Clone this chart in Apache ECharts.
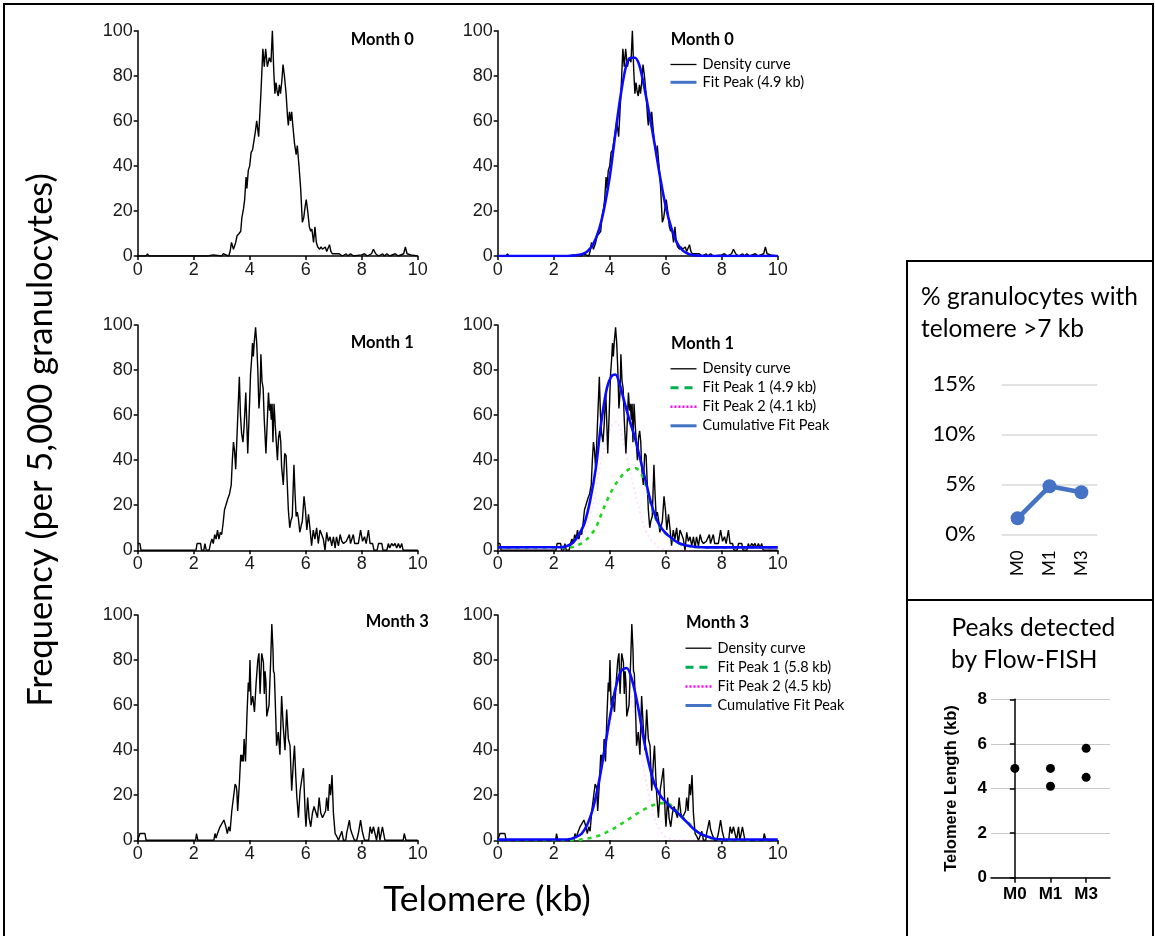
<!DOCTYPE html>
<html><head><meta charset="utf-8">
<script src="https://cdn.jsdelivr.net/npm/echarts@6/dist/echarts.min.js"></script>
<style>html,body{margin:0;padding:0;background:#fff}#c{width:1155px;height:936px}</style>
</head><body><div id="c"></div>
<script>
// ---------- DATA ----------
// density curves: [telomere kb, frequency]
const density0 = [[0,0],[0.3,0],[0.35,1],[0.4,0],[2.5,0],[2.55,0.5],[2.7,0.5],[2.75,0],[3.0,0],[3.05,1],[3.15,0.5],[3.25,0],[3.3,2],[3.35,6],[3.42,3],[3.5,6],[3.55,9],[3.62,10],[3.68,11],[3.72,17],[3.78,21],[3.82,25],[3.87,35],[3.9,30],[3.95,38],[4.0,40],[4.05,46],[4.1,47],[4.2,55],[4.25,60],[4.32,53],[4.4,72],[4.47,92],[4.52,84],[4.57,92],[4.63,84],[4.7,88],[4.76,86],[4.81,100],[4.86,82],[4.9,72],[4.94,77],[4.98,73],[5.02,71],[5.06,76],[5.1,72],[5.15,78],[5.19,85],[5.24,80],[5.3,72],[5.35,62],[5.38,58],[5.42,64],[5.46,60],[5.5,64],[5.54,58],[5.6,50],[5.66,45],[5.7,49],[5.76,40],[5.82,30],[5.88,15],[5.93,17],[5.98,22],[6.02,25],[6.08,19],[6.13,13],[6.18,11],[6.22,12],[6.28,6],[6.33,13],[6.38,6],[6.43,4],[6.5,3],[6.55,4],[6.6,3],[6.65,3],[6.7,4],[6.75,2],[6.85,5],[6.9,2],[6.95,1],[7.0,0.5],[7.2,1],[7.3,0],[7.45,1],[7.5,0],[7.6,1],[7.7,0],[8.0,0.5],[8.1,1],[8.2,0],[8.35,1],[8.42,3],[8.5,1],[8.6,0],[8.75,1],[8.8,0],[8.9,1],[9.0,0],[9.2,1],[9.3,0],[9.5,1],[9.56,4],[9.62,1],[9.75,0.5],[9.8,0],[10,0]];
const density1 = [[0,3],[0.08,3],[0.12,0],[2.08,0],[2.12,3],[2.25,3],[2.28,0],[2.36,0],[2.4,3],[2.45,0],[2.55,0],[2.6,3],[2.65,5],[2.7,3],[2.75,7],[2.8,5],[2.85,9],[2.9,5],[2.95,8],[3.0,7],[3.05,12],[3.1,18],[3.15,20],[3.22,23],[3.28,25],[3.34,29],[3.38,40],[3.42,48],[3.46,44],[3.5,36],[3.56,55],[3.63,77],[3.67,60],[3.71,52],[3.76,48],[3.8,55],[3.86,70],[3.9,55],[3.93,43],[3.98,60],[4.03,78],[4.07,85],[4.1,92],[4.13,86],[4.16,92],[4.21,99],[4.25,92],[4.29,80],[4.33,63],[4.37,70],[4.4,87],[4.44,75],[4.48,72],[4.52,58],[4.58,43],[4.63,58],[4.67,70],[4.71,62],[4.74,65],[4.77,58],[4.8,65],[4.83,48],[4.87,65],[4.91,56],[4.95,48],[4.99,40],[5.03,50],[5.07,53],[5.11,48],[5.14,37],[5.2,29],[5.25,43],[5.3,42],[5.34,30],[5.38,18],[5.43,10],[5.47,13],[5.52,15],[5.58,38],[5.62,25],[5.66,15],[5.7,17],[5.74,14],[5.79,8],[5.84,11],[5.88,13],[5.94,24],[5.99,18],[6.04,9],[6.1,16],[6.15,10],[6.21,2],[6.27,9],[6.33,5],[6.39,10],[6.45,3],[6.51,9],[6.57,9],[6.63,5],[6.69,0],[6.75,8],[6.81,4],[6.87,6],[6.93,2],[6.99,6],[7.05,1],[7.1,6],[7.17,2],[7.23,7],[7.29,4],[7.35,3],[7.45,4],[7.56,7],[7.6,3],[7.65,3],[7.7,7],[7.75,3],[7.88,3],[7.96,9],[8.03,4],[8.1,6],[8.16,3],[8.24,9],[8.3,3],[8.39,3],[8.44,0],[8.55,0],[8.6,3],[8.72,3],[8.76,0],[8.9,0],[8.95,3],[9.0,1],[9.07,3],[9.13,2],[9.19,3],[9.25,1],[9.31,3],[9.37,1],[9.43,3],[9.48,0],[10,0]];
const density3 = [[0,0],[0.06,0],[0.08,3],[0.26,3],[0.3,0],[2.07,0],[2.1,3],[2.15,0],[2.72,0],[2.76,3],[2.8,1],[2.85,3],[2.9,3],[2.94,6],[3.0,6],[3.08,9],[3.15,6],[3.2,3],[3.25,6],[3.3,4],[3.36,13],[3.42,19],[3.48,25],[3.52,24],[3.54,22],[3.57,13],[3.63,25],[3.68,38],[3.72,35],[3.74,38],[3.77,35],[3.8,45],[3.85,35],[3.9,55],[3.95,70],[3.98,66],[4.01,80],[4.05,60],[4.11,64],[4.17,57],[4.23,70],[4.29,80],[4.33,83],[4.37,65],[4.43,83],[4.49,79],[4.52,65],[4.55,75],[4.58,70],[4.61,55],[4.66,55],[4.69,60],[4.75,80],[4.79,96],[4.83,85],[4.85,75],[4.88,74],[4.93,55],[4.96,42],[5.02,48],[5.08,38],[5.14,64],[5.2,50],[5.26,40],[5.32,58],[5.38,45],[5.44,42],[5.5,22],[5.56,35],[5.6,42],[5.64,30],[5.68,20],[5.74,10],[5.8,22],[5.86,22],[5.92,32],[5.98,12],[6.01,6],[6.07,19],[6.12,10],[6.18,6],[6.24,12],[6.3,15],[6.36,15],[6.42,10],[6.48,19],[6.54,12],[6.6,10],[6.65,10],[6.71,13],[6.75,19],[6.8,13],[6.85,25],[6.89,20],[6.94,29],[6.99,12],[7.05,3],[7.1,2],[7.17,0],[7.23,0],[7.29,4],[7.35,0],[7.43,0],[7.46,3],[7.56,9],[7.6,5],[7.65,3],[7.7,3],[7.74,0],[7.82,0],[7.88,3],[7.96,9],[8.02,4],[8.1,0],[8.25,0],[8.3,6],[8.36,3],[8.42,6],[8.48,6],[8.53,0],[8.56,0],[8.6,6],[8.65,0],[8.7,0],[8.74,6],[8.8,6],[8.83,0],[9.48,0],[9.52,3],[9.58,0],[10,0]];

// fitted peaks
const fit0 = [[0,0],[2.5,0],[2.8,0.3],[3.0,0.8],[3.2,2],[3.4,5],[3.6,11],[3.8,21],[4.0,35],[4.2,54],[4.4,72],[4.6,85],[4.75,88],[4.9,88],[5.05,85],[5.2,77],[5.4,64],[5.6,50],[5.8,35],[6.0,22],[6.2,12.5],[6.4,6],[6.6,2.5],[6.8,1],[7.0,0.3],[7.5,0],[10,0]];
const m1Peak1 = [[0,1.3],[2.5,1.3],[2.7,1.6],[2.9,2.5],[3.1,4],[3.3,6.5],[3.5,10],[3.7,16],[3.9,22],[4.1,27],[4.3,31],[4.5,34],[4.7,36],[4.9,36.5],[5.1,34.5],[5.3,28.5],[5.5,19],[5.7,12.5],[5.9,8.7],[6.1,6.3],[6.3,4.4],[6.5,2.9],[6.8,1.9],[7.0,1.5],[7.5,1.3],[10,1.3]];
const m1Peak2 = [[0,0],[2.4,0],[2.7,1.5],[2.9,3.5],[3.1,8],[3.3,15.5],[3.5,26],[3.7,40],[3.9,50],[4.1,56],[4.25,57],[4.4,53],[4.6,42],[4.8,31],[5.0,21],[5.2,12],[5.4,6],[5.6,3],[5.8,1],[6.0,0.3],[6.3,0],[10,0]];
const m1Cumul = [[0,1.3],[2.3,1.4],[2.5,2],[2.7,3.5],[2.9,7],[3.1,12],[3.3,22],[3.5,36],[3.7,57],[3.9,72],[4.05,77],[4.2,78],[4.35,74],[4.5,67],[4.7,58],[4.9,50],[5.1,40],[5.3,30],[5.5,20],[5.7,13],[5.9,9],[6.1,6.5],[6.3,4.5],[6.5,3],[6.8,2],[7.0,1.6],[7.5,1.3],[10,1.3]];
const m3Peak1 = [[0,0],[2.8,0],[3.0,0.4],[3.3,1],[3.6,2],[3.8,3],[4.0,4.3],[4.25,6],[4.5,8],[4.75,10],[5.0,12],[5.2,13.5],[5.45,15],[5.7,16.2],[5.9,16.5],[6.1,16.3],[6.3,14.2],[6.5,11.8],[6.7,9],[6.9,6.7],[7.1,4],[7.3,2.6],[7.5,1.5],[7.7,0.8],[8.0,0.3],[8.5,0],[10,0]];
const m3Peak2 = [[0,0],[2.5,0],[2.8,1],[3.0,2.5],[3.2,6],[3.4,13],[3.6,23],[3.8,36],[4.0,50],[4.2,62],[4.4,68],[4.6,68],[4.8,61],[5.0,48],[5.2,33],[5.4,20],[5.6,10],[5.8,4.5],[6.0,1.5],[6.2,0.5],[6.5,0],[10,0]];
const m3Cumul = [[0,0.3],[2.5,0.4],[2.8,1.5],[3.0,3],[3.2,7],[3.4,14],[3.6,25],[3.8,39],[4.0,54],[4.2,67],[4.4,75],[4.6,76.5],[4.8,71],[5.0,60],[5.2,46],[5.4,34],[5.6,25],[5.8,20],[6.0,17],[6.2,14.5],[6.4,12.5],[6.6,10],[6.8,7.5],[7.0,5],[7.2,3.2],[7.4,2],[7.6,1.2],[7.8,0.6],[8.0,0.4],[10,0.3]];

// right-hand panels
const pctCats = ['M0','M1','M3'];
const pctValues = [1.6, 4.8, 4.2];
const peakCats = ['M0','M1','M3'];
const peakValues = [[4.9],[4.9,4.1],[5.8,4.5]];

const monthLabels = ['Month 0','Month 1','Month 3'];
const legendNames = {
  m0: ['Density curve','Fit Peak (4.9 kb)'],
  m1: ['Density curve','Fit Peak 1 (4.9 kb)','Fit Peak 2 (4.1 kb)','Cumulative Fit Peak'],
  m3: ['Density curve','Fit Peak 1 (5.8 kb)','Fit Peak 2 (4.5 kb)','Cumulative Fit Peak']
};

// ---------- LAYOUT ----------
const ARIAL = 'Liberation Sans, Arial, sans-serif';
const CAL = 'Lato, Carlito, Calibri, sans-serif';
const PW = 280, PH = 225.3;
const panelPos = [
  [137.7, 30.7], [497.7, 30.7],
  [137.7, 325], [497.7, 325],
  [137.7, 615], [497.7, 615]
];

const grids = panelPos.map(p => ({left:p[0], top:p[1], width:PW, height:PH}));
grids.push({left:1001.7, top:384.3, width:95.6, height:150});   // % panel
grids.push({left:991, top:699.3, width:119, height:178.4});     // peaks panel

const axisLineSt = {show:true, lineStyle:{color:'#000', width:1.5}};
const tickSt = {show:true, inside:false, length:4, lineStyle:{color:'#000', width:1.5}};
const lblSt = {fontFamily:ARIAL, fontSize:18, color:'#1a1a1a'};

const xAxes = [], yAxes = [];
for (let i = 0; i < 6; i++) {
  xAxes.push({gridIndex:i, type:'value', min:0, max:10, interval:2,
    axisLine:axisLineSt, axisTick:tickSt, splitLine:{show:false},
    axisLabel:Object.assign({margin:5}, lblSt)});
  yAxes.push({gridIndex:i, type:'value', min:0, max:100, interval:20,
    axisLine:axisLineSt, axisTick:tickSt, splitLine:{show:false},
    axisLabel:Object.assign({margin:5}, lblSt)});
}
// % panel
xAxes.push({gridIndex:6, type:'category', data:pctCats, boundaryGap:true,
  axisLine:{show:false}, axisTick:{show:false},
  axisLabel:{rotate:90, margin:16, fontFamily:CAL, fontSize:17, color:'#000'}});
yAxes.push({gridIndex:6, type:'value', min:0, max:15, interval:5,
  axisLine:{show:false}, axisTick:{show:false},
  splitLine:{show:true, lineStyle:{color:'#d9d9d9', width:1.5}},
  axisLabel:{formatter:'{value}%', margin:26, fontFamily:CAL, fontSize:22, color:'#000'}});
// peaks panel
xAxes.push({gridIndex:7, type:'value', min:-0.67, max:2.67,
  axisLine:axisLineSt, splitLine:{show:false},
  axisTick:{show:true, length:5, customValues:[0,1,2], lineStyle:{color:'#000', width:1.5}},
  axisLabel:{customValues:[0,1,2], formatter:v => peakCats[Math.round(v)], margin:8,
    fontFamily:ARIAL, fontWeight:'bold', fontSize:17, color:'#000'}});
yAxes.push({gridIndex:7, type:'value', min:0, max:8, interval:2,
  axisLine:axisLineSt, axisTick:{show:true, length:5, lineStyle:{color:'#000', width:1.5}},
  splitLine:{show:true, lineStyle:{color:'#c8c8c8', width:1}},
  name:'Telomere Length (kb)', nameLocation:'middle', nameRotate:90, nameGap:31,
  nameTextStyle:{fontFamily:ARIAL, fontWeight:'bold', fontSize:16.5, color:'#000'},
  axisLabel:{margin:4, fontFamily:ARIAL, fontWeight:'bold', fontSize:17, color:'#000'}});

function dens(name, data, idx) {
  return {type:'line', name, xAxisIndex:idx, yAxisIndex:idx, data, symbol:'none',
    lineStyle:{color:'#000', width:1.4}, itemStyle:{color:'#000'}, z:2};
}
function fit(name, data, idx, color, width, type, opacity, z) {
  return {type:'line', name, xAxisIndex:idx, yAxisIndex:idx, data, symbol:'none', smooth:0.35,
    lineStyle:{color, width, type, opacity}, itemStyle:{color}, z};
}
const BLUE = '#0a0aff', GREEN = '#1ed41e', MAG = '#ff00ff';
const series = [
  dens('m0 left', density0, 0),
  dens('Density curve', density0, 1),
  fit('Fit Peak (4.9 kb)', fit0, 1, BLUE, 2.6, 'solid', 1, 4),
  dens('m1 left', density1, 2),
  dens('Density curve', density1, 3),
  fit('Fit Peak 2 (4.1 kb)', m1Peak2, 3, MAG, 2, [2,3], 0.12, 3),
  fit('Fit Peak 1 (4.9 kb)', m1Peak1, 3, GREEN, 2.6, [4,5], 1, 3),
  fit('Cumulative Fit Peak', m1Cumul, 3, BLUE, 2.6, 'solid', 1, 4),
  dens('m3 left', density3, 4),
  dens('Density curve', density3, 5),
  fit('Fit Peak 2 (4.5 kb)', m3Peak2, 5, MAG, 2, [2,3], 0.12, 3),
  fit('Fit Peak 1 (5.8 kb)', m3Peak1, 5, GREEN, 2.6, [4,5], 1, 3),
  fit('Cumulative Fit Peak', m3Cumul, 5, BLUE, 2.6, 'solid', 1, 4),
  {type:'line', name:'pct', xAxisIndex:6, yAxisIndex:6, data:pctValues,
   symbol:'circle', symbolSize:14, lineStyle:{color:'#4472C4', width:4.5}, itemStyle:{color:'#4472C4'}},
  {type:'scatter', name:'peaks', xAxisIndex:7, yAxisIndex:7, symbolSize:9, itemStyle:{color:'#000', opacity:1},
   data:peakValues.flatMap((vals, i) => vals.map(v => [i, v]))}
];

const noSym = {itemStyle:{opacity:0, color:'rgba(0,0,0,0)', borderWidth:0}};
const legStyle = {
  'Density curve': {lineStyle:{color:'#000', width:1.3, type:'solid', opacity:1}},
  'Fit Peak (4.9 kb)': {lineStyle:{color:'#4472C4', width:3, type:'solid', opacity:1}},
  'Fit Peak 1 (4.9 kb)': {lineStyle:{color:'#00b050', width:3, type:[8,6], opacity:1}},
  'Fit Peak 1 (5.8 kb)': {lineStyle:{color:'#00b050', width:3, type:[8,6], opacity:1}},
  'Fit Peak 2 (4.1 kb)': {lineStyle:{color:'#ff00ff', width:2.5, type:[2,2], opacity:1}},
  'Fit Peak 2 (4.5 kb)': {lineStyle:{color:'#ff00ff', width:2.5, type:[2,2], opacity:1}},
  'Cumulative Fit Peak': {lineStyle:{color:'#4472C4', width:3, type:'solid', opacity:1}}
};
function mkLegend(names, left, top, gap) {
  return {orient:'vertical', left, top, itemWidth:26, itemHeight:14, itemGap:gap, padding:0,
    selectedMode:false, textStyle:{fontFamily:CAL, fontSize:14.5, color:'#000', padding:[0,0,0,1]},
    data:names.map(n => Object.assign({name:n}, noSym, legStyle[n]))};
}
const legends = [
  mkLegend(legendNames.m0, 669, 57, 2.8),
  mkLegend(legendNames.m1, 669, 361.3, 4),
  mkLegend(legendNames.m3, 684, 640.7, 4.1)
];

function txt(t, x, y, opt) {
  return Object.assign({type:'text', x, y, style:Object.assign({text:t, fill:'#000',
    fontFamily:CAL, fontSize:16, textAlign:'left', textVerticalAlign:'middle'}, opt || {})});
}
const monthPos = [[350.7,40],[670.7,40],[350.7,342.5],[671,344],[365.7,622],[686,623]];
const graphics = [
  {type:'polyline', shape:{points:[[4,936],[4,4],[1153,4],[1153,936]]}, style:{stroke:'#000', lineWidth:2, fill:null}},
  {type:'polyline', shape:{points:[[907,936],[907,261],[1153,261]]}, style:{stroke:'#000', lineWidth:2, fill:null}},
  {type:'line', shape:{x1:907, y1:600, x2:1153, y2:600}, style:{stroke:'#000', lineWidth:2}},
  txt('Frequency (per 5,000 granulocytes)', 41, 440, {fontSize:34.5, textAlign:'center'}),
  txt('Telomere (kb)', 487, 900, {fontSize:35.5, textAlign:'center'}),
  txt('% granulocytes with', 921, 297, {fontSize:24.5}),
  txt('telomere >7 kb', 921, 329, {fontSize:24.5}),
  txt('Peaks detected', 951.5, 628, {fontSize:24.5}),
  txt('by Flow-FISH', 951, 660, {fontSize:24.5})
];
graphics[3].rotation = Math.PI / 2;
monthPos.forEach((p, i) => graphics.push(txt(monthLabels[Math.floor(i / 2)], p[0], p[1], {fontSize:16.5, fontWeight:'bold'})));

const chart = echarts.init(document.getElementById('c'), null, {renderer:'canvas'});
chart.setOption({
  animation:false,
  backgroundColor:'#fff',
  grid:grids, xAxis:xAxes, yAxis:yAxes, series, legend:legends, graphic:graphics
});
</script></body></html>
